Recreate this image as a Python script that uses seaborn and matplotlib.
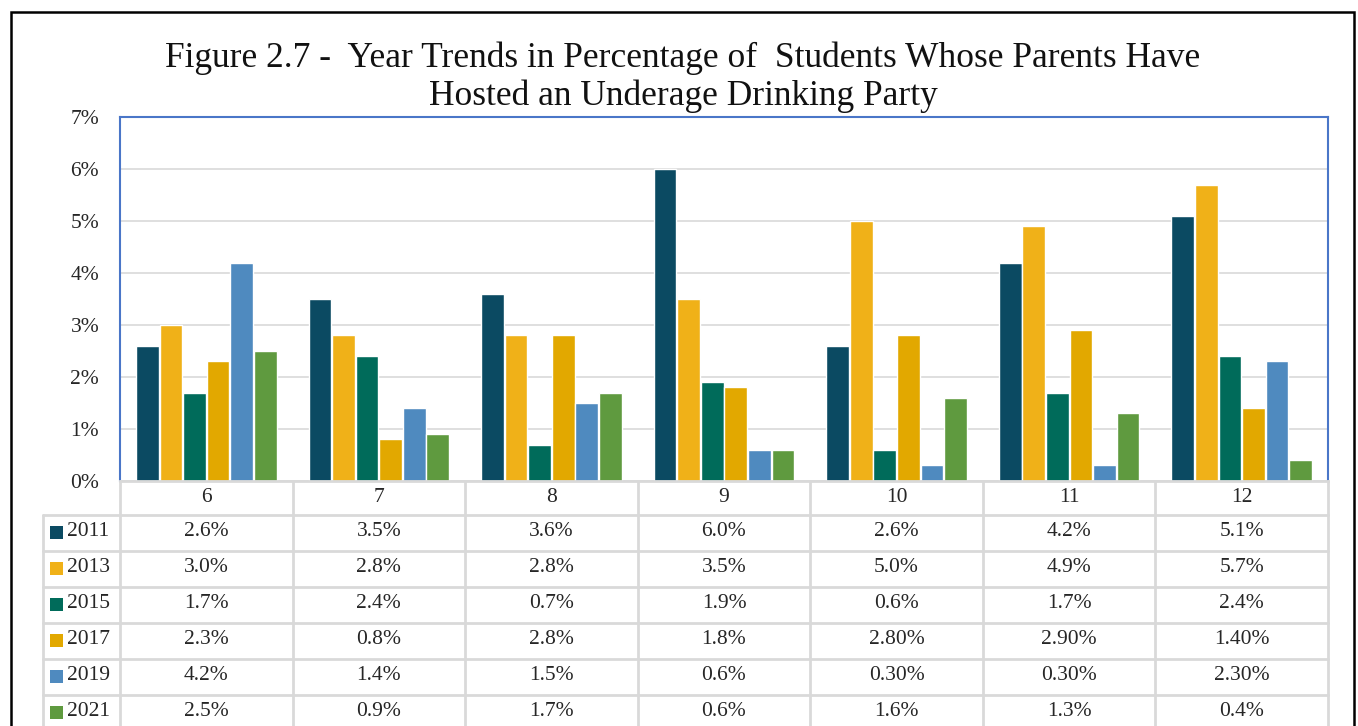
import matplotlib
matplotlib.use("Agg")
import matplotlib.pyplot as plt
import matplotlib.transforms as mtransforms
from matplotlib.patches import Rectangle
import pandas as pd
import seaborn as sns

# data
grades = ["6", "7", "8", "9", "10", "11", "12"]
years = ["2011", "2013", "2015", "2017", "2019", "2021"]
pct_2011 = [2.6, 3.5, 3.6, 6.0, 2.6, 4.2, 5.1]
pct_2013 = [3.0, 2.8, 2.8, 3.5, 5.0, 4.9, 5.7]
pct_2015 = [1.7, 2.4, 0.7, 1.9, 0.6, 1.7, 2.4]
pct_2017 = [2.3, 0.8, 2.8, 1.8, 2.8, 2.9, 1.4]
pct_2019 = [4.2, 1.4, 1.5, 0.6, 0.3, 0.3, 2.3]
pct_2021 = [2.5, 0.9, 1.7, 0.6, 1.6, 1.3, 0.4]
# cells that the source table prints with two decimals
two_decimals = {"2017": ["10", "11", "12"], "2019": ["10", "11", "12"]}

colors = ["#0b4a62", "#f0b118", "#006b5a", "#e2a800", "#4f8abf", "#5f9a3f"]

series = [pct_2011, pct_2013, pct_2015, pct_2017, pct_2019, pct_2021]
rows = []
for yr, vals in zip(years, series):
    for g, v in zip(grades, vals):
        rows.append({"grade": g, "year": yr, "pct": v})
df = pd.DataFrame(rows)

sns.set_style("white")
plt.rcParams["font.family"] = ["Liberation Serif", "DejaVu Serif"]

W, H = 1358, 726
TXT = 15.5
fig = plt.figure(figsize=(W / 100, H / 100), dpi=100)


def fx(x):
    return x / W


def fy(y):
    return 1 - y / H


ax = fig.add_axes([fx(120), fy(481), fx(1328) - fx(120), fy(117) - fy(481)])

sns.barplot(data=df, x="grade", y="pct", hue="year", order=grades, hue_order=years,
            palette=colors, width=0.82, gap=0.04, saturation=1, legend=False, ax=ax)

ax.set_ylim(0, 7)
ax.set_xlim(-0.5, len(grades) - 0.5)
ax.set_yticks(range(0, 8))
ax.set_yticklabels([f"{t}%" for t in range(0, 8)], fontsize=TXT, color="#262626")
ax.tick_params(axis="y", length=0, pad=15)
ax.set_xticks([])
ax.set_xlabel("")
ax.set_ylabel("")
ax.grid(axis="y", color="#d9d9d9", linewidth=1.2)
ax.set_axisbelow(True)
for side in ["left", "top", "right"]:
    ax.spines[side].set_color("#4a76c8")
    ax.spines[side].set_linewidth(1.5)
ax.spines["bottom"].set_color("#d9d9d9")
ax.spines["bottom"].set_linewidth(2)

fig.text(fx(683), fy(77), "Figure 2.7 -  Year Trends in Percentage of  Students Whose Parents Have\n"
         "Hosted an Underage Drinking Party",
         ha="center", va="center", fontsize=25.5, linespacing=1.18, color="#111111")

# data table under the plot area
trans = mtransforms.blended_transform_factory(ax.transData, fig.transFigure)
line_c = "#d9d9d9"
row_tops = [515 + 36 * i for i in range(len(years) + 1)]
for y in row_tops:
    fig.add_artist(plt.Line2D([fx(43), fx(1328)], [fy(y), fy(y)], color=line_c, lw=2,
                              transform=fig.transFigure))
fig.add_artist(plt.Line2D([fx(43), fx(43)], [fy(515), fy(740)], color=line_c, lw=2,
                          transform=fig.transFigure))
for i in range(len(grades) + 1):
    xb = i - 0.5
    fig.add_artist(plt.Line2D([xb, xb], [fy(481), fy(740)], color=line_c, lw=2,
                              transform=trans, clip_on=False))

for i, g in enumerate(grades):
    fig.text(i, fy(497), g, transform=trans, ha="center", va="center", fontsize=TXT, color="#262626")

for r, (yr, vals, c) in enumerate(zip(years, series, colors)):
    yc = 532 + 36 * r
    fig.add_artist(Rectangle((fx(50), fy(yc + 6.5)), fx(13), 13 / H, facecolor=c,
                             edgecolor="none", transform=fig.transFigure))
    fig.text(fx(67), fy(yc), yr, ha="left", va="center", fontsize=TXT, color="#262626")
    for i, (g, v) in enumerate(zip(grades, vals)):
        nd = 2 if g in two_decimals.get(yr, []) else 1
        fig.text(i, fy(yc), f"{v:.{nd}f}%", transform=trans, ha="center", va="center",
                 fontsize=TXT, color="#262626")

# outer frame of the exhibit
fig.add_artist(Rectangle((fx(11), fy(760)), fx(1354) - fx(11), (760 - 12) / H, facecolor="none",
                         edgecolor="black", lw=1.8, transform=fig.transFigure, clip_on=False))

fig.savefig("out.png", dpi=100)
